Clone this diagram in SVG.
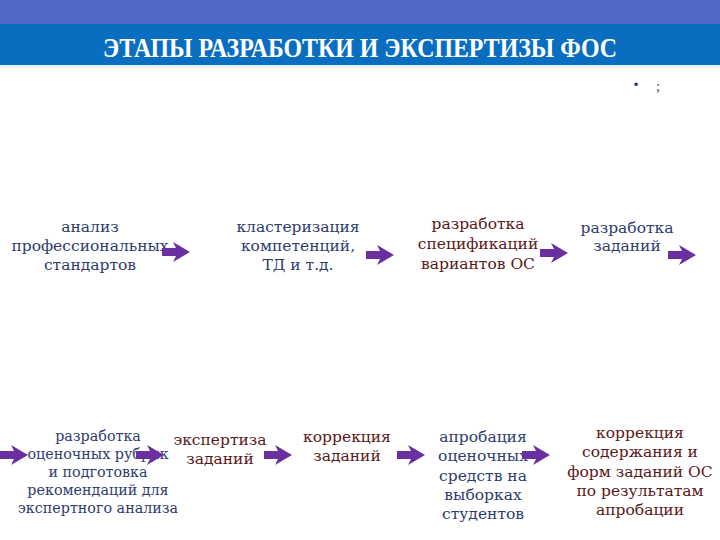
<svg xmlns="http://www.w3.org/2000/svg" xmlns:xlink="http://www.w3.org/1999/xlink" width="720" height="540" viewBox="0 0 720 540">
<style>
.t{font-family:"DejaVu Serif","Liberation Serif",serif;font-size:15.5px;text-anchor:middle}
.s{font-size:14.3px}
.n{fill:#2E3C6E}
.b{fill:#5A1818}
.title{font-family:"Liberation Serif",serif;font-size:28px;font-weight:bold;fill:#FFFFFF;text-anchor:middle}
.arr{fill:#6A2FA0}
</style>
<defs>
<path id="ar" d="M0,-4 H14 L11,-10 L28,0 L11,10 L14,4 H0 Z"/>
</defs>
<rect x="0" y="0" width="720" height="540" fill="#FFFFFF"/>
<rect x="0" y="0" width="720" height="24" fill="#5068C8"/>
<rect x="0" y="24" width="720" height="41" fill="#0A6EC0"/>
<rect x="0" y="65" width="720" height="3" fill="#E4F2FA"/>
<text class="title" x="360" y="57" textLength="514" lengthAdjust="spacingAndGlyphs">ЭТАПЫ РАЗРАБОТКИ И ЭКСПЕРТИЗЫ ФОС</text>
<text x="636" y="89" font-family="Liberation Sans,sans-serif" font-size="13" fill="#2E3C6E" text-anchor="middle">•</text>
<text x="658" y="91" font-family="Liberation Serif,serif" font-size="14" fill="#2E3C6E" text-anchor="middle">;</text>

<g id="n1"><text class="t n" x="90" y="232"><tspan x="90">анализ</tspan><tspan x="90" dy="19">профессиональных</tspan><tspan x="90" dy="19">стандартов</tspan></text></g>
<g id="n2"><text class="t n" x="298" y="232"><tspan x="298">кластеризация</tspan><tspan x="298" dy="19">компетенций,</tspan><tspan x="298" dy="19">ТД и т.д.</tspan></text></g>
<g id="n3"><text class="t b" x="478" y="229"><tspan x="478">разработка</tspan><tspan x="478" dy="20">спецификаций</tspan><tspan x="478" dy="20">вариантов ОС</tspan></text></g>
<g id="n4"><text class="t n" x="627" y="233"><tspan x="627">разработка</tspan><tspan x="627" dy="18">заданий</tspan></text></g>
<g id="n5"><text class="t s n" x="98" y="441"><tspan x="98">разработка</tspan><tspan x="98" dy="18">оценочных рубрик</tspan><tspan x="98" dy="18">и подготовка</tspan><tspan x="98" dy="18">рекомендаций для</tspan><tspan x="98" dy="18">экспертного анализа</tspan></text></g>
<g id="n6"><text class="t b" x="220" y="445"><tspan x="220">экспертиза</tspan><tspan x="220" dy="19">заданий</tspan></text></g>
<g id="n7"><text class="t b" x="347" y="442"><tspan x="347">коррекция</tspan><tspan x="347" dy="19">заданий</tspan></text></g>
<g id="n8"><text class="t n" x="483" y="442"><tspan x="483">апробация</tspan><tspan x="483" dy="19.3">оценочных</tspan><tspan x="483" dy="19.3">средств на</tspan><tspan x="483" dy="19.3">выборках</tspan><tspan x="483" dy="19.3">студентов</tspan></text></g>
<g id="n9"><text class="t b" x="640" y="438"><tspan x="640">коррекция</tspan><tspan x="640" dy="19.3">содержания и</tspan><tspan x="640" dy="19.3">форм заданий ОС</tspan><tspan x="640" dy="19.3">по результатам</tspan><tspan x="640" dy="19.3">апробации</tspan></text></g>

<g id="connectors" class="arr">
<use xlink:href="#ar" transform="translate(162,252)"/>
<use xlink:href="#ar" transform="translate(366,255)"/>
<use xlink:href="#ar" transform="translate(540,253)"/>
<use xlink:href="#ar" transform="translate(668,255)"/>
<use xlink:href="#ar" transform="translate(0,455)"/>
<use xlink:href="#ar" transform="translate(136,455)"/>
<use xlink:href="#ar" transform="translate(264,455)"/>
<use xlink:href="#ar" transform="translate(397,455)"/>
<use xlink:href="#ar" transform="translate(522,455)"/>
</g>
</svg>
